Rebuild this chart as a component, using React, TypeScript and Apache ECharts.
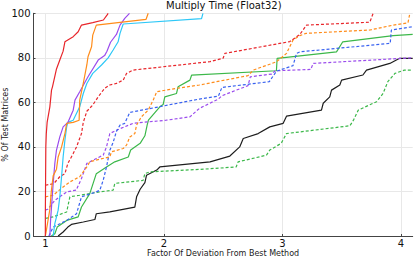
import React, { useEffect, useRef } from "react";
import * as echarts from "echarts";

// Performance-profile curves: [factor of deviation, % of test matrices]
const redSolid: [number, number][] = [
  [1.0, 0], [1.0, 10], [1.002, 25], [1.004, 40], [1.008, 46], [1.015, 51], [1.038, 58],
  [1.052, 65.5], [1.06, 67], [1.094, 75], [1.122, 79], [1.15, 83], [1.165, 87.2], [1.235, 89.5],
  [1.277, 91.7], [1.305, 94.7], [1.40, 95.8], [1.49, 97], [1.52, 99.2], [1.53, 100],
];
const orangeSolid: [number, number][] = [
  [1.0, 0], [1.01, 3], [1.038, 12], [1.05, 20], [1.066, 27], [1.094, 30], [1.108, 35.5],
  [1.137, 40], [1.165, 46], [1.18, 50.6], [1.235, 51], [1.285, 52], [1.29, 61], [1.32, 68.5],
  [1.35, 76.8], [1.36, 80.5], [1.39, 85], [1.40, 90.2], [1.43, 94.7], [1.85, 97.3], [1.868, 100],
];
const cyanSolid: [number, number][] = [
  [1.066, 0], [1.08, 5.6], [1.108, 11.6], [1.122, 17.6], [1.137, 26.6], [1.15, 35.5],
  [1.165, 43], [1.18, 49], [1.19, 51], [1.235, 52], [1.29, 58], [1.32, 64], [1.35, 68.5],
  [1.40, 73], [1.474, 76.8], [1.53, 80], [1.572, 83.5], [1.614, 87.2], [1.63, 91],
  [1.657, 95.2], [2.318, 97.6], [2.33, 100],
];
const purpleSolid: [number, number][] = [
  [1.038, 0], [1.044, 7], [1.066, 23.6], [1.08, 32.6], [1.094, 38.6], [1.122, 44.5],
  [1.15, 49], [1.19, 51], [1.235, 56.5], [1.25, 61], [1.29, 64.8], [1.36, 71.5], [1.446, 79],
  [1.50, 81], [1.52, 83], [1.55, 87], [1.60, 90.5], [1.63, 94.7], [1.67, 97.7], [1.71, 100],
];
const redDashed: [number, number][] = [
  [1.0, 22.8], [1.07, 23.5], [1.122, 26.6], [1.165, 28], [1.19, 32.6], [1.235, 37],
  [1.263, 40], [1.305, 46], [1.32, 51], [1.35, 56], [1.40, 58.8], [1.446, 62.5], [1.50, 66.3],
  [1.544, 67.8], [1.60, 68.5], [1.657, 70], [1.685, 73], [1.74, 74.5], [2.39, 78.3],
  [2.50, 79.8], [2.515, 82], [3.063, 87.3], [3.148, 90.5], [3.204, 94.7], [3.738, 96],
  [3.766, 100],
];
const orangeDashed: [number, number][] = [
  [1.0, 17.6], [1.066, 18.3], [1.15, 22], [1.207, 24.3], [1.29, 26.6], [1.35, 31],
  [1.375, 33.3], [1.46, 34.5], [1.544, 35.5], [1.558, 37.8], [1.657, 39.3], [1.685, 40.8],
  [1.713, 44.5], [1.755, 46], [1.77, 49.8], [1.81, 53.5], [1.868, 56.5], [1.91, 61],
  [1.94, 64.8], [2.107, 66.3], [2.30, 67.8], [2.71, 72], [2.754, 74.5], [2.95, 78.2],
  [3.035, 82], [3.09, 88], [3.148, 90], [3.2, 91], [3.74, 92.5], [3.935, 94.7],
  [4.06, 95.7], [4.076, 100],
];
const blueDashed: [number, number][] = [
  [1.03, 0], [1.066, 4], [1.18, 7], [1.263, 10], [1.305, 17.6], [1.43, 19.8], [1.46, 20.6],
  [1.488, 25], [1.516, 31], [1.544, 38.5], [1.572, 42], [1.60, 47], [1.63, 49.8],
  [1.67, 50.6], [1.713, 55.5], [2.30, 61.5], [2.46, 62.8], [2.49, 66.7], [2.89, 69.3],
  [2.95, 74], [3.09, 76.5], [3.12, 82], [3.15, 82.7], [3.91, 86.5], [3.92, 92.5], [4.10, 94],
];
const purpleDashed: [number, number][] = [
  [1.0, 11.6], [1.02, 12], [1.08, 16], [1.18, 19.8], [1.26, 20.6], [1.305, 25.8],
  [1.35, 32.6], [1.43, 34.8], [1.488, 36.3], [1.516, 40], [1.544, 46], [1.60, 47.5],
  [1.74, 50.6], [2.02, 52], [2.22, 53.5], [2.30, 57.3], [2.46, 61.5], [2.49, 63],
  [2.71, 67.5], [2.73, 71.5], [2.91, 72.7], [2.94, 74.2], [3.24, 74.8], [3.26, 77.5],
  [4.02, 79.8], [4.10, 80],
];
const greenSolid: [number, number][] = [
  [1.05, 0], [1.08, 1], [1.10, 4], [1.18, 7], [1.277, 8.6], [1.305, 13], [1.375, 19],
  [1.43, 28], [1.516, 31], [1.586, 33.3], [1.70, 35.5], [1.72, 38.6], [1.80, 41.6],
  [1.84, 45], [1.86, 50], [1.87, 52], [1.966, 58], [1.994, 59], [2.008, 62.5], [2.107, 64],
  [2.12, 67], [2.22, 70], [2.234, 72.2], [2.95, 74.2], [2.956, 79.8], [3.457, 82.7],
  [3.51, 87.2], [3.935, 90], [4.10, 90.5],
];
const greenDashed: [number, number][] = [
  [1.0, 7.9], [1.066, 8.6], [1.18, 10.8], [1.207, 17.6], [1.29, 18.3], [1.46, 19.8],
  [1.572, 20.6], [1.586, 23.6], [1.825, 25], [1.84, 28], [1.88, 28.8], [2.30, 29.9],
  [2.61, 31], [2.627, 33.3], [2.866, 36.3], [2.894, 38.6], [2.99, 41.6], [3.035, 46],
  [3.57, 49.5], [3.60, 52], [3.64, 56.5], [3.795, 60.3], [3.85, 64], [3.89, 69.3],
  [3.95, 73], [4.03, 74.5], [4.10, 74.5],
];
const blackSolid: [number, number][] = [
  [1.108, 0], [1.15, 1.8], [1.19, 4], [1.22, 5.2], [1.32, 6.3], [1.418, 7.4], [1.43, 10],
  [1.544, 10.8], [1.755, 13], [1.77, 17.6], [1.80, 21], [1.84, 24], [1.854, 27.3],
  [1.94, 29.6], [1.966, 31], [2.39, 33.3], [2.557, 35.9], [2.64, 40], [2.67, 43.8],
  [2.796, 46], [2.894, 49], [3.007, 50.6], [3.035, 53.8], [3.33, 56.5], [3.345, 59.6],
  [3.40, 62.5], [3.415, 65.5], [3.485, 67.8], [3.50, 70], [3.68, 72.3], [3.71, 74.5],
  [3.907, 77.5], [3.99, 79.8], [4.10, 79.8],
];

const xTicks = [1, 2, 3, 4];
const yTicks = [0, 20, 40, 60, 80, 100];

const RED = "#e8262b";
const ORANGE = "#ff8c1a";
const CYAN = "#2ec8f7";
const PURPLE = "#9b4ced";
const GREEN = "#3cb84a";
const BLUE = "#3a63f0";
const BLACK = "#1e1e1e";

const seriesDefs: { name: string; data: [number, number][]; color: string; dashed: boolean }[] = [
  { name: "a", data: blackSolid, color: BLACK, dashed: false },
  { name: "b", data: greenDashed, color: GREEN, dashed: true },
  { name: "c", data: greenSolid, color: GREEN, dashed: false },
  { name: "d", data: purpleDashed, color: PURPLE, dashed: true },
  { name: "e", data: blueDashed, color: BLUE, dashed: true },
  { name: "f", data: orangeDashed, color: ORANGE, dashed: true },
  { name: "g", data: redDashed, color: RED, dashed: true },
  { name: "h", data: cyanSolid, color: CYAN, dashed: false },
  { name: "i", data: purpleSolid, color: PURPLE, dashed: false },
  { name: "j", data: orangeSolid, color: ORANGE, dashed: false },
  { name: "k", data: redSolid, color: RED, dashed: false },
];

const FONT = "DejaVu Sans";

export default function App() {
  const ref = useRef<HTMLDivElement>(null);
  useEffect(() => {
    if (!ref.current) return;
    const chart = echarts.init(ref.current, undefined, { renderer: "svg" });
    chart.setOption({
      animation: false,
      backgroundColor: "#ffffff",
      textStyle: { fontFamily: FONT },
      title: {
        text: "Multiply Time (Float32)",
        left: 166,
        top: 0,
        padding: 0,
        textStyle: { fontFamily: FONT, fontSize: 10, fontWeight: "normal", color: "#111" },
      },
      grid: {
        left: 33.5,
        right: 2.3,
        top: 13.3,
        bottom: 24,
        containLabel: false,
        outerBoundsMode: "none",
      },
      xAxis: {
        type: "value",
        min: 0.9,
        max: 4.1,
        name: "Factor Of Deviation From Best Method",
        nameLocation: "middle",
        nameGap: 13,
        nameMoveOverlap: false,
        nameTextStyle: { fontFamily: FONT, fontSize: 8, color: "#222" },
        axisLine: { show: true, onZero: false, lineStyle: { color: "#444", width: 1 } },
        axisTick: { show: true, inside: true, length: 2, customValues: xTicks, lineStyle: { color: "#444" } },
        axisLabel: { customValues: xTicks, fontFamily: FONT, fontSize: 10, color: "#111", margin: 2 },
        splitLine: { show: true, lineStyle: { color: "#e8e8e8", width: 1 } },
      },
      yAxis: {
        type: "value",
        min: 0,
        max: 100,
        interval: 20,
        name: "% Of Test Matrices",
        nameLocation: "middle",
        nameGap: 24,
        nameMoveOverlap: false,
        nameTextStyle: { fontFamily: FONT, fontSize: 8, color: "#222" },
        axisLine: { show: true, lineStyle: { color: "#444", width: 1 } },
        axisTick: { show: true, inside: true, length: 2, lineStyle: { color: "#444" } },
        axisLabel: { fontFamily: FONT, fontSize: 10, color: "#111", margin: 3, customValues: yTicks },
        splitLine: { show: true, lineStyle: { color: "#e8e8e8", width: 1 } },
      },
      series: seriesDefs.map((s) => ({
        name: s.name,
        type: "line",
        data: s.data,
        showSymbol: false,
        symbol: "none",
        clip: true,
        lineStyle: {
          color: s.color,
          width: 1.2,
          type: s.dashed ? [3, 2] : "solid",
        },
        itemStyle: { color: s.color },
      })),
    });
    return () => chart.dispose();
  }, []);
  return (
    <div
      ref={ref}
      style={{ position: "fixed", left: 0, top: 0, width: 415, height: 260, background: "#fff" }}
    />
  );
}
